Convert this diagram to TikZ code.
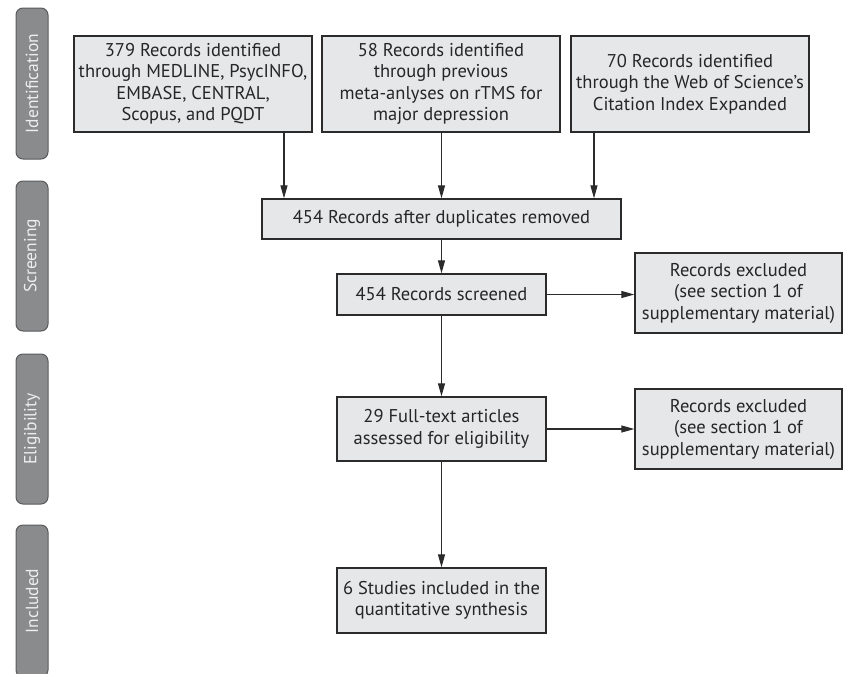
\documentclass[tikz,border=0pt]{standalone}
\usepackage{fontspec}
\setmainfont{PT Sans}
\usetikzlibrary{arrows.meta}
\definecolor{boxfill}{HTML}{E6E7E8}
\definecolor{boxline}{HTML}{2B2B2B}
\definecolor{barfill}{HTML}{8A8B8D}
\definecolor{barline}{HTML}{5A5A5C}
\definecolor{bartext}{HTML}{EEEEEF}
\begin{document}
\begin{tikzpicture}[x=1pt,y=-1pt,
  box/.style={draw=boxline, fill=boxfill, line width=1.3pt, align=center,
    font=\fontsize{18.5}{21.5}\selectfont, inner sep=0pt, text=black!85},
  bar/.style={draw=barline, fill=barfill, line width=1pt, rounded corners=7pt,
    rotate=90, minimum height=32, inner sep=0pt, text=bartext,
    font=\fontsize{17.5}{19}\selectfont},
  arr/.style={draw=boxline, line width=1.2pt, -{Triangle[length=13pt,width=7pt]}}]
\useasboundingbox (0,0) rectangle (844,673);
\clip (0,0) rectangle (844,673);
% side bars
\node[bar, minimum width=151] (s1) at (32,83.5) {Identification};
\node[bar, minimum width=150] (s2) at (32,256) {Screening};
\node[bar, minimum width=150] (s3) at (32,429) {Eligibility};
\node[bar, minimum width=152] (s4) at (32,601) {Included};
% boxes
\node[box, minimum width=238, minimum height=96] (A) at (193,84)
  {379 Records identified\\through MEDLINE, PsycINFO,\\EMBASE, CENTRAL,\\Scopus, and PQDT};
\node[box, minimum width=238, minimum height=96] (B) at (441,84)
  {58 Records identified\\through previous\\meta-anlyses on rTMS for\\major depression};
\node[box, minimum width=238, minimum height=96] (C) at (690,84)
  {70 Records identified\\through the Web of Science’s\\Citation Index Expanded};
\node[box, minimum width=359, minimum height=40] (D) at (441.5,219)
  {454 Records after duplicates removed};
\node[box, minimum width=209, minimum height=41] (E) at (441.5,294.5)
  {454 Records screened};
\node[box, minimum width=207, minimum height=80] (F) at (738.5,293)
  {Records excluded\\(see section 1 of\\supplementary material)};
\node[box, minimum width=209, minimum height=64] (G) at (441.5,429)
  {29 Full-text articles\\assessed for eligibility};
\node[box, minimum width=207, minimum height=80] (H) at (738.5,429)
  {Records excluded\\(see section 1 of\\supplementary material)};
\node[box, minimum width=209, minimum height=65] (I) at (441.5,600.5)
  {6 Studies included in the\\quantitative synthesis};
% connectors
\coordinate (ax) at (284,0);
\coordinate (cx) at (594,0);
\draw[arr] (A.south -| ax) -- (D.north -| ax);
\draw[arr] (B.south -| D.north) -- (D.north);
\draw[arr] (C.south -| cx) -- (D.north -| cx);
\draw[arr] (D.south) -- (E.north);
\draw[arr] (E.east) -- (F.west |- E.east);
\draw[arr] (E.south) -- (G.north);
\draw[arr] (G.east) -- (H.west |- G.east);
\draw[arr] (G.south) -- (I.north);
\end{tikzpicture}
\end{document}
